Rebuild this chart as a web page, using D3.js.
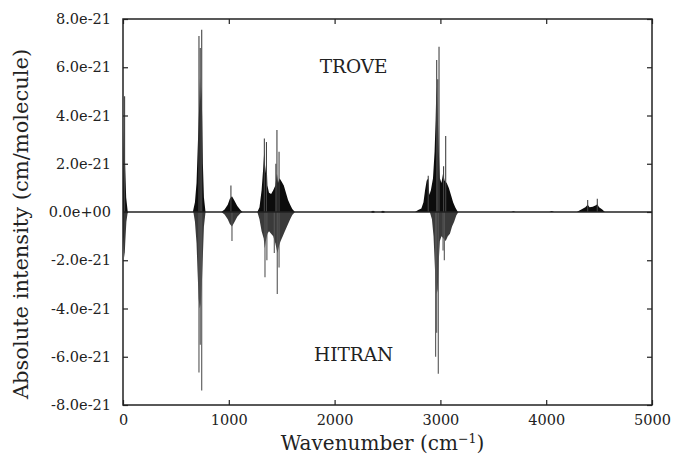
<!DOCTYPE html>
<html><head><meta charset="utf-8">
<script src="https://cdn.jsdelivr.net/npm/d3@7"></script>
<style>body{margin:0;background:#fff}svg{display:block}text{font-family:"DejaVu Serif",serif;fill:#222}</style>
</head><body>
<script>
// Units: intensity in 1e-21 cm/molecule
const xTicks = [0, 1000, 2000, 3000, 4000, 5000];
const yTicks = [-8, -6, -4, -2, 0, 2, 4, 6, 8];
const yTickLabels = ["-8.0e-21","-6.0e-21","-4.0e-21","-2.0e-21","0.0e+00","2.0e-21","4.0e-21","6.0e-21","8.0e-21"];

// TROVE envelope (positive)
const troveWn = [0,5,12,18,30,45,
 660,680,695,705,715,722,728,735,742,748,755,765,780,
 930,960,990,1010,1030,1050,1080,1110,1130,
 1270,1290,1310,1325,1336,1345,1356,1365,1380,1400,1420,1440,1455,1465,1480,1500,1520,1540,1560,1580,1600,1625,
 2340,2363,2385,2435,2457,2480,
 2760,2790,2820,2840,2855,2870,2885,2895,2910,2930,2945,2955,2962,2968,2975,2985,2995,3010,3025,3040,3060,3080,3100,3120,3140,3165,
 3670,3690,3710,4030,4052,4075,
 4290,4310,4340,4370,4392,4410,4440,4470,4483,4500,4530,4555];
const troveI = [0.8,2.5,4.0,2.2,0.6,0,
 0,0.4,1.2,2.5,3.8,4.6,5.6,4.6,5.2,4.0,2.0,0.6,0,
 0,0.1,0.3,0.55,0.65,0.5,0.25,0.08,0,
 0,0.2,0.9,1.8,2.6,1.6,2.2,1.1,0.8,0.75,0.9,1.1,1.6,1.2,1.4,1.25,1.1,0.8,0.5,0.3,0.12,0,
 0,0.05,0,0,0.05,0,
 0,0.08,0.15,0.4,0.9,1.3,1.4,0.7,0.9,1.4,2.5,3.8,5.2,4.8,4.0,2.5,1.4,1.2,1.6,1.3,1.2,1.0,0.7,0.4,0.2,0,
 0,0.03,0,0,0.04,0,
 0,0.05,0.12,0.2,0.3,0.2,0.22,0.28,0.32,0.2,0.1,0];
// TROVE strongest individual lines
const troveSpikeWn = [15,718,730,744,1020,1336,1356,1445,1455,1475,2885,2965,2975,2987,3030,3050,4392,4483];
const troveSpikeI  = [4.8,7.3,6.8,7.55,1.1,3.05,2.9,2.0,3.4,2.5,1.5,6.3,5.5,6.85,1.9,3.15,0.5,0.55];

// HITRAN envelope (negative)
const hitranWn = [0,8,15,22,32,45,
 665,680,695,705,715,725,735,745,755,765,780,
 930,960,990,1010,1030,1050,1080,1110,1130,
 1270,1290,1310,1330,1340,1350,1365,1380,1400,1420,1440,1460,1475,1490,1510,1530,1555,1580,1600,1625,
 2340,2363,2385,2435,2457,2480,
 2900,2920,2935,2945,2955,2965,2975,2985,2995,3010,3030,3050,3070,3090,3110,3130,3150,3170];
const hitranI = [-1.0,-1.6,-1.9,-1.2,-0.4,0,
 0,-0.4,-1.3,-2.5,-3.6,-4.0,-3.8,-3.0,-1.8,-0.6,0,
 0,-0.1,-0.3,-0.5,-0.6,-0.45,-0.2,-0.05,0,
 0,-0.3,-0.8,-1.1,-1.5,-1.2,-0.9,-0.8,-0.9,-1.0,-1.3,-1.7,-1.4,-1.2,-1.0,-0.8,-0.55,-0.3,-0.12,0,
 0,-0.04,0,0,-0.04,0,
 0,-0.3,-1.0,-2.0,-3.0,-3.4,-3.2,-2.0,-1.2,-1.0,-1.1,-1.2,-1.0,-0.9,-0.6,-0.4,-0.15,0];
const hitranSpikeWn = [718,730,744,1030,1342,1360,1430,1458,1475,2955,2965,2980,3025,3037];
const hitranSpikeI  = [-6.65,-5.5,-7.4,-1.2,-2.7,-2.0,-1.7,-3.4,-2.3,-6.0,-5.0,-6.7,-1.6,-2.0];

const W = 676, H = 459;
const m = {left:123, right:24, top:19, bottom:54};
const svg = d3.select("body").append("svg").attr("width",W).attr("height",H);
const x = d3.scaleLinear().domain([0,5000]).range([m.left, W-m.right]);
const y = d3.scaleLinear().domain([-8,8]).range([H-m.bottom, m.top]);

const g = svg.append("g");
g.append("clipPath").attr("id","clip").append("rect")
 .attr("x",m.left).attr("y",m.top).attr("width",W-m.left-m.right).attr("height",H-m.top-m.bottom);
const plot = g.append("g").attr("clip-path","url(#clip)");

const area = d3.area().x(d=>x(d[0])).y0(y(0)).y1(d=>y(d[1]));
plot.append("path").datum(hitranWn.map((w,i)=>[w,hitranI[i]]))
 .attr("d",area).attr("fill","#3a3a3a");
plot.append("path").datum(troveWn.map((w,i)=>[w,troveI[i]]))
 .attr("d",area).attr("fill","#0c0c0c");

plot.selectAll("line.hs").data(hitranSpikeWn.map((w,i)=>[w,hitranSpikeI[i]])).join("line")
 .attr("class","hs").attr("x1",d=>x(d[0])).attr("x2",d=>x(d[0])).attr("y1",y(0)).attr("y2",d=>y(d[1]))
 .attr("stroke","#555").attr("stroke-width",1.1);
plot.selectAll("line.ts").data(troveSpikeWn.map((w,i)=>[w,troveSpikeI[i]])).join("line")
 .attr("class","ts").attr("x1",d=>x(d[0])).attr("x2",d=>x(d[0])).attr("y1",y(0)).attr("y2",d=>y(d[1]))
 .attr("stroke","#444").attr("stroke-width",1.1);

// zero line
g.append("line").attr("x1",x(0)).attr("x2",x(5000)).attr("y1",y(0)).attr("y2",y(0))
 .attr("stroke","#222").attr("stroke-width",1.3);

// axes (ticks inward, mirrored)
const fs = "14.5px";
const ax = g.append("g").attr("transform",`translate(0,${y(-8)})`)
 .call(d3.axisBottom(x).tickValues(xTicks).tickSize(-5).tickPadding(10).tickFormat(d3.format("d")));
const axT = g.append("g").attr("transform",`translate(0,${y(8)})`)
 .call(d3.axisTop(x).tickValues(xTicks).tickSize(-5).tickFormat(""));
const ay = g.append("g").attr("transform",`translate(${x(0)},0)`)
 .call(d3.axisLeft(y).tickValues(yTicks).tickSize(-5).tickPadding(12).tickFormat((d,i)=>yTickLabels[i]));
const ayR = g.append("g").attr("transform",`translate(${x(5000)},0)`)
 .call(d3.axisRight(y).tickValues(yTicks).tickSize(-5).tickFormat(""));
[ax,axT,ay,ayR].forEach(a=>{
  a.select(".domain").remove();
  a.selectAll(".tick line").attr("stroke","#222").attr("stroke-width",1.2);
  a.selectAll("text").style("font-family","DejaVu Serif").style("font-size",fs).attr("fill","#222");
});
g.append("rect").attr("x",x(0)).attr("y",y(8)).attr("width",x(5000)-x(0)).attr("height",y(-8)-y(8))
 .attr("fill","none").attr("stroke","#222").attr("stroke-width",1.5);

// labels
svg.append("text").attr("x",(x(0)+x(5000))/2 - 5).attr("y",450).attr("text-anchor","middle")
 .style("font-size","20px").html('Wavenumber (cm<tspan dy="-7" font-size="12.5px">−1</tspan><tspan dy="7">)</tspan>');
svg.append("text").attr("transform",`translate(28,224) rotate(-90)`)
 .attr("text-anchor","middle").style("font-size","21px").text("Absolute intensity (cm/molecule)");
svg.append("text").attr("x",x(2180)).attr("y",73).attr("text-anchor","middle").style("font-size","18.5px").text("TROVE");
svg.append("text").attr("x",x(2180)).attr("y",361).attr("text-anchor","middle").style("font-size","18.5px").text("HITRAN");
</script>
</body></html>
